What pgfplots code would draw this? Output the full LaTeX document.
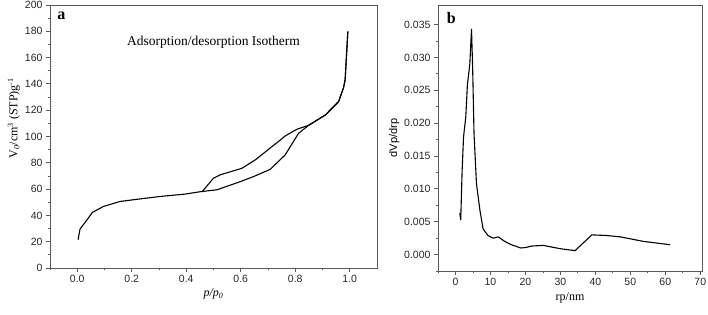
\documentclass[border=0pt]{standalone}
\usepackage{fontspec}
\setmainfont{Liberation Serif}
\setsansfont{Liberation Sans}
\usepackage{pgfplots}
\pgfplotsset{compat=1.18}
\definecolor{frame}{RGB}{90,90,90}
\begin{document}
\begin{tikzpicture}
\path[use as bounding box] (0,0) rectangle (708pt,315pt);
\pgfplotsset{
  common/.style={
    scale only axis,
    axis line style={frame, line width=0.9pt},
    tick style={frame, line width=0.8pt},
    tick align=outside,
    major tick length=4pt,
    minor tick length=2.5pt,
    xtick pos=bottom, ytick pos=left,
    tick label style={font=\sffamily\fontsize{10.5}{12}\selectfont, text=black!85},
    /pgf/number format/assume math mode=true,
  },
  curve/.style={black, no markers, line width=1.1pt, line join=round},
}
% Panel a
\begin{axis}[common,
  at={(50pt,47pt)}, anchor=south west,
  width=327pt, height=263pt,
  xmin=-0.1, xmax=1.1, ymin=0, ymax=200,
  xtick={0,0.2,...,1.0}, minor xtick={-0.1,0.1,0.3,0.5,0.7,0.9},
  ytick={0,20,...,200}, minor ytick={10,30,...,190},
  xticklabel style={/pgf/number format/.cd, fixed, fixed zerofill, precision=1},
  xlabel={\fontsize{12}{14}\selectfont\itshape p/p\textsubscript{0}},
  xlabel style={yshift=1pt},
  ylabel={\fontsize{12}{14}\selectfont V\textsubscript{\itshape 0}/cm\textsuperscript{3} (STP)g\textsuperscript{-1}},
  ylabel style={yshift=-2pt, at={(ticklabel cs:0.57)}},
]
\addplot[curve] coordinates {
(0.003,21.5)(0.01,29.5)(0.056,42.3)(0.096,46.8)(0.157,50.6)(0.206,51.9)
(0.304,54.4)(0.396,56.2)(0.451,58)(0.513,59.5)(0.6,65.8)(0.648,69.6)
(0.708,75)(0.763,86)(0.812,102.4)(0.849,108.5)(0.91,116.3)(0.959,126.5)
(0.977,137)(0.983,143)(0.993,180)};
\addplot[curve] coordinates {
(0.993,180)(0.983,143)(0.977,137)(0.959,126.5)(0.91,116.3)(0.849,108.5)
(0.807,105.6)(0.763,100.4)(0.745,97.3)(0.715,92.4)(0.654,82.3)(0.604,75.8)
(0.525,70.9)(0.5,68.3)(0.458,58)};
\node[anchor=north west, font=\fontsize{16}{18}\selectfont\bfseries] at (rel axis cs:0.012,0.985) {a};
\node[anchor=west, font=\fontsize{13.5}{15}\selectfont] at (axis cs:0.17,172) {Adsorption/desorption Isotherm};
\end{axis}
% Panel b
\begin{axis}[common,
  at={(438pt,44pt)}, anchor=south west,
  width=264pt, height=266pt,
  xmin=-5, xmax=70.5, ymin=-0.0025, ymax=0.038,
  xtick={0,10,...,70}, minor xtick={-5,5,15,...,65},
  ytick={0,0.005,...,0.035}, minor ytick={-0.0025,0.0025,0.0075,...,0.0375},
  scaled y ticks=false,
  yticklabel style={/pgf/number format/.cd, fixed, fixed zerofill, precision=3},
  xlabel={\fontsize{12}{14}\selectfont rp/nm},
  ylabel={\sffamily\fontsize{11}{13}\selectfont dVp/drp},
  ylabel style={yshift=-2pt},
]
\addplot[curve] coordinates {
(1.23,0.0063)(1.5,0.0053)(1.9,0.0128)(2.3,0.0179)(2.95,0.021)(3.4,0.0258)
(4.1,0.029)(4.58,0.0343)(4.9,0.0286)(5.3,0.0184)(6.0,0.0108)(7.0,0.0067)
(7.9,0.0039)(9.3,0.0029)(10.8,0.0025)(12.2,0.0027)(14.1,0.002)(16,0.0015)
(18.7,0.001)(20.3,0.0011)(21.8,0.0013)(25.1,0.0014)(29.9,0.0009)(34.2,0.0006)
(39,0.003)(43.3,0.0029)(47.1,0.0027)(53.8,0.002)(61.4,0.0015)};
\node[anchor=north west, font=\fontsize{16}{18}\selectfont\bfseries] at (rel axis cs:0.02,0.985) {b};
\end{axis}
\end{tikzpicture}
\end{document}
